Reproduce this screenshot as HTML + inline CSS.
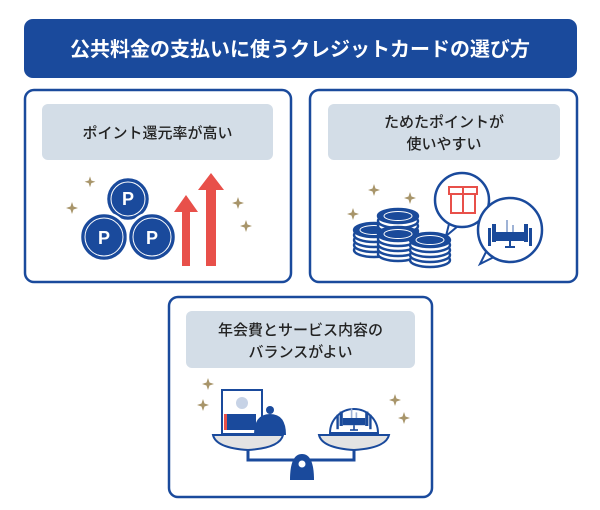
<!DOCTYPE html>
<html><head><meta charset="utf-8"><style>
body{margin:0;background:#fff;}
svg{display:block}
text{font-family:"Liberation Sans","Noto Sans CJK JP",sans-serif;}
</style></head><body>
<svg width="600" height="510" viewBox="0 0 600 510">
<defs>
<g id="spark"><path d="M0,-6 L1.5,-1.5 L6,0 L1.5,1.5 L0,6 L-1.5,1.5 L-6,0 L-1.5,-1.5Z" fill="#a8956a"/></g>
<g id="coin">
<ellipse cx="0" cy="14" rx="20" ry="7" fill="#fff" stroke="#1a4a9a" stroke-width="2.5"/>
<ellipse cx="0" cy="9" rx="20" ry="7" fill="#fff" stroke="#1a4a9a" stroke-width="2.5"/>
<ellipse cx="0" cy="4" rx="20" ry="7" fill="#fff" stroke="#1a4a9a" stroke-width="2.5"/>
<ellipse cx="0" cy="-1" rx="20" ry="7" fill="#fff" stroke="#1a4a9a" stroke-width="2.5"/>
<ellipse cx="0" cy="-6" rx="20" ry="7" fill="#1a4a9a" stroke="#1a4a9a" stroke-width="2.5"/>
<ellipse cx="0" cy="-6" rx="14" ry="4.5" fill="none" stroke="#fff" stroke-width="1"/>
</g>
<g id="dinner">
<rect x="-18" y="-8" width="4" height="18" fill="#1a4a9a"/><rect x="-22" y="-4" width="3" height="18" fill="#1a4a9a"/>
<rect x="14" y="-8" width="4" height="18" fill="#1a4a9a"/><rect x="19" y="-4" width="3" height="18" fill="#1a4a9a"/>
<rect x="-14" y="0" width="28" height="9" fill="#1a4a9a"/>
<line x1="0" y1="9" x2="0" y2="15" stroke="#1a4a9a" stroke-width="2"/>
<line x1="-5" y1="15" x2="5" y2="15" stroke="#1a4a9a" stroke-width="2"/>
<rect x="-4" y="-12" width="2" height="12" fill="#9fb3d6"/><rect x="2" y="-7" width="2" height="7" fill="#9fb3d6"/>
</g>
</defs>
<rect x="24" y="19" width="553" height="59" rx="9" fill="#1a4a9c"/>
<text x="300" y="56" text-anchor="middle" font-size="20" font-weight="bold" fill="#fff">公共料金の支払いに使うクレジットカードの選び方</text>

<!-- box1 -->
<rect x="25" y="90" width="266" height="192" rx="9" fill="#fff" stroke="#1a4a9c" stroke-width="2.5"/>
<rect x="42" y="104" width="231" height="56" rx="6" fill="#d3dde7"/>
<text x="157.5" y="138" text-anchor="middle" font-size="15" font-weight="500" fill="#222">ポイント還元率が高い</text>
<g fill="#1a4a9c" stroke="#fff" stroke-width="2.5">
<circle cx="128" cy="199" r="22"/><circle cx="104" cy="237" r="24"/><circle cx="152" cy="237" r="24"/>
</g>
<g fill="none" stroke="#fff" stroke-width="1"><circle cx="128" cy="199" r="17"/><circle cx="104" cy="237" r="19"/><circle cx="152" cy="237" r="19"/></g>
<g fill="#fff" font-size="18" font-weight="bold" text-anchor="middle"><text x="128" y="205">P</text><text x="104" y="244">P</text><text x="152" y="244">P</text></g>
<path d="M182,266 V212 H174 L186,195 L198,212 H190 V266Z" fill="#e8504a"/>
<path d="M206,266 V190 H198 L211,173 L224,190 H216 V266Z" fill="#e8504a"/>
<use href="#spark" x="72" y="208"/><use href="#spark" x="90" y="182" transform="translate(9,18) scale(0.9)"/><use href="#spark" x="238" y="203"/><use href="#spark" x="246" y="226"/>

<!-- box2 -->
<rect x="310" y="90" width="267" height="192" rx="9" fill="#fff" stroke="#1a4a9c" stroke-width="2.5"/>
<rect x="328" y="104" width="232" height="56" rx="6" fill="#d3dde7"/>
<text x="444" y="127" text-anchor="middle" font-size="15" font-weight="500" fill="#222">ためたポイントが</text>
<text x="444" y="149" text-anchor="middle" font-size="15" font-weight="500" fill="#222">使いやすい</text>
<use href="#spark" x="353" y="214"/><use href="#spark" x="374" y="190"/><use href="#spark" x="410" y="198"/>
<use href="#coin" x="374" y="236"/><use href="#coin" x="398" y="222"/><use href="#coin" x="398" y="240"/><use href="#coin" x="430" y="246"/>
<path d="M450,220 L446,236 L458,226Z" fill="#fff" stroke="#1a4a9c" stroke-width="2"/>
<circle cx="462" cy="200" r="27" fill="#fff" stroke="#1a4a9c" stroke-width="2.5"/>
<rect x="451" y="193" width="24" height="20" fill="#fff" stroke="#e8504a" stroke-width="2"/>
<rect x="449" y="187" width="28" height="7" fill="#fff" stroke="#e8504a" stroke-width="2"/>
<line x1="463" y1="187" x2="463" y2="213" stroke="#e8504a" stroke-width="2"/>
<path d="M488,248 L480,264 L496,256Z" fill="#fff" stroke="#1a4a9c" stroke-width="2"/>
<circle cx="510" cy="230" r="32" fill="#fff" stroke="#1a4a9c" stroke-width="2.5"/>
<use href="#dinner" x="510" y="232"/>

<!-- box3 -->
<rect x="169" y="297" width="263" height="200" rx="9" fill="#fff" stroke="#1a4a9c" stroke-width="2.5"/>
<rect x="186" y="311" width="229" height="57" rx="6" fill="#d3dde7"/>
<text x="300.5" y="335" text-anchor="middle" font-size="15" font-weight="500" fill="#222">年会費とサービス内容の</text>
<text x="300.5" y="357" text-anchor="middle" font-size="15" font-weight="500" fill="#222">バランスがよい</text>
<use href="#spark" x="208" y="384"/><use href="#spark" x="203" y="405"/><use href="#spark" x="395" y="400"/><use href="#spark" x="404" y="418"/>
<rect x="222" y="390" width="40" height="44" fill="#fff" stroke="#1a4a9c" stroke-width="2"/>
<circle cx="242" cy="403" r="6" fill="#c7d3e6"/>
<g fill="#1a4a9c"><rect x="226" y="414" width="30" height="16"/></g>
<rect x="224" y="414" width="3" height="16" fill="#e8504a"/>
<path d="M254,435 Q254,414 270,414 Q286,414 286,435Z" fill="#1a4a9c"/>
<circle cx="270" cy="410" r="4" fill="#1a4a9c"/>
<path d="M213,435 H283 Q280,448 248,450 Q216,448 213,435Z" fill="#e3e3e3" stroke="#1a4a9c" stroke-width="2"/>
<path d="M319,435 H389 Q386,448 354,450 Q322,448 319,435Z" fill="#e3e3e3" stroke="#1a4a9c" stroke-width="2"/>
<path d="M330,433 A24,24 0 1 1 378,433Z" fill="#fff" stroke="#1a4a9c" stroke-width="2"/>
<use href="#dinner" x="354" y="418" transform="translate(354,418) scale(0.8) translate(-354,-418)"/>
<path d="M248,450 V460 H354 V450" fill="none" stroke="#1a4a9c" stroke-width="3"/>
<path d="M290,480 Q290,454 302,454 Q314,454 314,480Z" fill="#1a4a9c"/>
<circle cx="302" cy="464" r="3.5" fill="#fff"/>
</svg>
</body></html>
